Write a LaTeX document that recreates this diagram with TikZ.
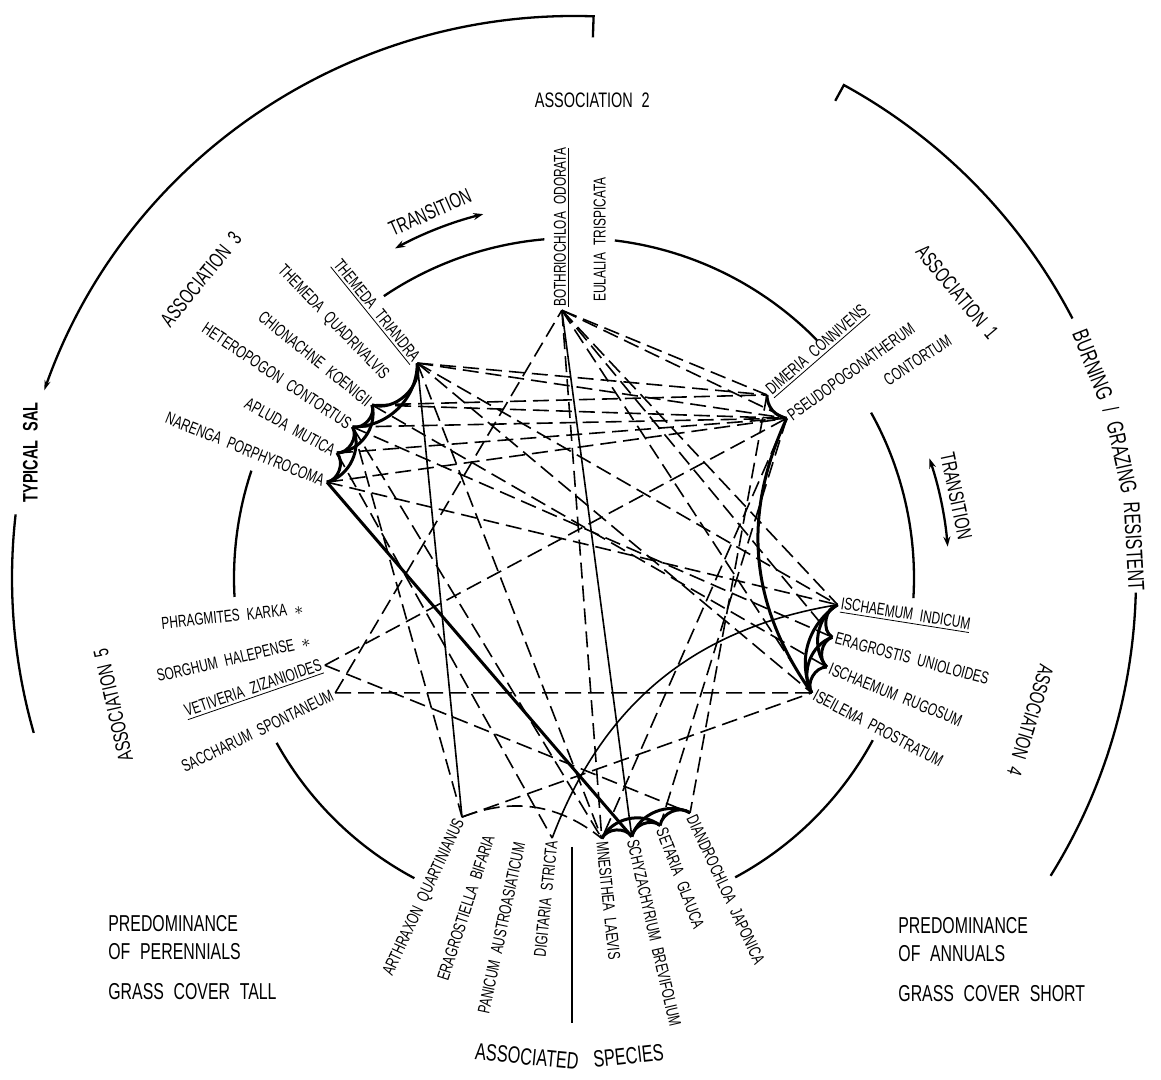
\documentclass[tikz,border=0pt]{standalone}
\usepackage{fontspec}
\setmainfont{Liberation Sans}[FakeStretch=0.69, WordSpace=2.2]
\usetikzlibrary{arrows.meta}

\begin{document}
\begin{tikzpicture}[
    x=0.5pt, y=0.5pt,
    ring/.style={line width=1.15pt},
    web/.style={line width=1.5pt},
    link/.style={line width=0.8pt, dash pattern=on 8pt off 3.5pt},
    tie/.style={line width=0.8pt},
    sp/.style={font=\fontsize{8.6}{9}\selectfont, inner sep=1.5pt},
    assoc/.style={font=\fontsize{10.5}{12}\selectfont, inner sep=0pt},
    rim/.style={font=\fontsize{11.5}{12}\selectfont, inner sep=0pt},
    foot/.style={font=\fontsize{11.8}{13}\selectfont, inner sep=0pt},
    note/.style={font=\fontsize{11.5}{14}\selectfont, align=left, inner sep=0pt, anchor=north west},
    twoway/.style={ring, {Stealth[length=5pt, width=3.5pt]}-{Stealth[length=5pt, width=3.5pt]}}
]
  \useasboundingbox (-574,-502) rectangle (587,578);

  % end points of the species
  \foreach \n/\p/\q in {T/126.1/266, Tq/133.2/272, Ch/139.4/266, He/145.7/268, Ap/152.2/268, Na/158.8/265,
      B/92.6/268, Eu/84.6/274, Di/43.5/266, Ps/36.9/266, Pc/32.3/365,
      II/-5.8/265, Er/-12.9/265, IR/-19.4/268, Is/-25.8/264,
      Mn/276.1/262, Sc/282.6/265, Se/289.2/262, Dn/296.3/262,
      Ar/244.9/264, Eb/251.8/268, Pa/258.4/267, Dg/265.2/261,
      Ph/186.4/269, So/193.4/268, Ve/199.3/264, Sa/205.7/265}{
    \coordinate (\n) at (\p:\q);
  }

  % inner circle
  \foreach \p/\q in {95/124, 44.4/83.1, -3.4/29.1, -61.7/-28.5, 209/242, 161.6/183.2}{
    \draw[ring] (\p:340) arc[start angle=\p, end angle=\q, radius=340];
  }

  % outer circle
  \draw[ring, -{Stealth[length=5pt, width=3pt]}] (88:541) -- (88:562) arc[start angle=88, end angle=160.5, radius=562];
  \node[font=\bfseries\fontsize{10.5}{12}\selectfont, rotate=90, inner sep=0pt] (sal) at (167:558) {TYPICAL SAL};
  \draw[ring] (173.5:562) arc[start angle=173.5, end angle=196, radius=562];
  \draw[ring] (61.3:544) -- (61.3:562) arc[start angle=61.3, end angle=27.5, radius=562];
  \foreach \n/\p/\txt in {1/21.6/{BURNING /}, 2/12.4/{GRAZING}, 3/3.2/{RESISTENT}}{
    \node[rim, rotate=\p-90] (bg\n) at (\p:561) {\txt};
  }
  \draw[ring] (-1.5:562) arc[start angle=-1.5, end angle=-32, radius=562];

  % associations
  \foreach \n/\p/\rot in {1/36.7/-50, 2/87.8/0, 3/141.3/51, 4/-17.3/-107, 5/195.4/103}{
    \node[assoc, rotate=\rot] (as\n) at (\p:478) {ASSOCIATION \n};
  }
  \node[assoc, rotate=24] (tr1) at (111.5:393) {TRANSITION};
  \draw[twoway] (118.5:375) arc[start angle=118.5, end angle=104, radius=375];
  \node[assoc, rotate=-78] (tr2) at (12.1:391) {TRANSITION};
  \draw[twoway] (18.6:375) arc[start angle=18.6, end angle=4.8, radius=375];

  % species, read towards the centre
  \foreach \n/\rot/\txt in {T/-51/{\underline{THEMEDA TRIANDRA}}, Tq/-46/{THEMEDA QUADRIVALVIS},
      Ch/-39/{CHIONACHNE KOENIGII}, He/-34/{HETEROPOGON CONTORTUS}, Ap/-29/{APLUDA MUTICA},
      Na/-22/{NARENGA PORPHYROCOMA}, Ph/6/{PHRAGMITES KARKA $\ast$}, So/13/{SORGHUM HALEPENSE $\ast$},
      Ve/19/{\underline{VETIVERIA ZIZANIOIDES}}, Sa/26/{SACCHARUM SPONTANEUM},
      Ar/65/{ARTHRAXON QUARTINIANUS}, Eb/72/{ERAGROSTIELLA BIFARIA},
      Pa/78/{PANICUM AUSTROASIATICUM}, Dg/84/{DIGITARIA STRICTA}}{
    \node[sp, anchor=east, rotate=\rot] (l\n) at (\n) {\txt};
  }
  % species, read outwards
  \foreach \n/\rot/\txt in {B/90/{\underline{BOTHRIOCHLOA ODORATA}}, Eu/90/{EULALIA TRISPICATA},
      Di/41/{\underline{DIMERIA CONNIVENS}}, Ps/36/{PSEUDOPOGONATHERUM}, Pc/33/{CONTORTUM},
      II/-9/{\underline{ISCHAEMUM INDICUM}}, Er/-15/{ERAGROSTIS UNIOLOIDES},
      IR/-22/{ISCHAEMUM RUGOSUM}, Is/-28/{ISEILEMA PROSTRATUM},
      Mn/-84/{MNESITHEA LAEVIS}, Sc/-77/{SCHYZACHYRIUM BREVIFOLIUM},
      Se/-69/{SETARIA GLAUCA}, Dn/-65/{DIANDROCHLOA JAPONICA}}{
    \node[sp, anchor=west, rotate=\rot] (l\n) at (\n) {\txt};
  }

  % links between species
  \foreach \p/\q in {T/Di, T/Ps, T/II, T/Is, T/Mn, Ch/Di, Ch/Ps, Ch/IR, He/Ps, He/Er, He/Mn, He/Ar,
      Ap/Ps, Ap/Dg, Na/Ps, Na/II, B/Di, B/Ps, B/Mn, B/Is, B/Er, B/II, Di/Dn, Ps/Se, Ps/Mn,
      Ve/Ps, Ve/Dn, Sa/B, Sa/Is, Ar/Is}{
    \draw[link] (\p) -- (\q);
  }
  \draw[link] (Ar) to[bend left=30] (Mn);
  \draw[tie] (T) -- (Ar);
  \draw[tie] (B) -- (Sc);
  \draw[tie] (Dg) to[bend left=30] (II);
  \draw[web] (Na) -- (Sc);

  % bonds inside the associations
  \foreach \p/\q/\k in {T/Ch/60, T/He/45, Ch/He/60, Ch/Ap/50, He/Ap/60, He/Na/50, Ap/Na/60,
      Is/IR/60, IR/Er/60, Er/II/70, IR/II/50, Is/Er/50, Is/II/40,
      Mn/Sc/60, Sc/Se/60, Se/Dn/60, Mn/Se/50, Sc/Dn/50, Ps/Di/40}{
    \draw[web] (\p) to[bend left=\k] (\q);
  }
  \draw[web] (Is) to[bend left=30] (Ps);

  % bottom
  \node[foot, rotate=-5.5] (ft1) at (264.4:481) {ASSOCIATED};
  \node[foot, rotate=6.5] (ft2) at (276.5:481) {SPECIES};
  \draw[ring] (-2,-269) -- (-2,-445);
  \node[note] (perl) at (-466,-337) {PREDOMINANCE\\OF PERENNIALS\\[6pt]GRASS COVER TALL};
  \node[note] (annl) at (324,-339) {PREDOMINANCE\\OF ANNUALS\\[6pt]GRASS COVER SHORT};
\end{tikzpicture}
\end{document}
